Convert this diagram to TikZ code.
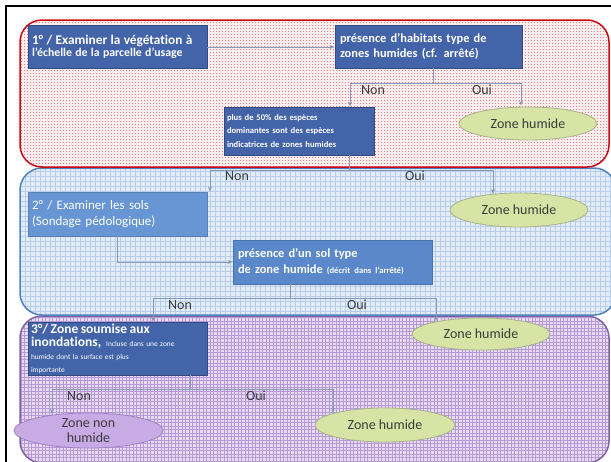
\documentclass[tikz,border=0pt]{standalone}
\usepackage{fontspec}
\setmainfont[Ligatures=NoCommon]{Carlito}
\usetikzlibrary{patterns.meta,arrows.meta,shapes.geometric}
\definecolor{redline}{RGB}{200,10,20}
\definecolor{redbg}{RGB}{252,238,238}
\definecolor{reddot}{RGB}{232,125,130}
\definecolor{blueline}{RGB}{79,129,189}
\definecolor{bluebg}{RGB}{226,236,248}
\definecolor{bluegridc}{RGB}{185,205,232}
\definecolor{purpline}{RGB}{128,100,162}
\definecolor{purpbg}{RGB}{232,218,243}
\definecolor{purpgridc}{RGB}{182,154,214}
\definecolor{darkbox}{RGB}{68,100,170}
\definecolor{darkboxline}{RGB}{50,75,130}
\definecolor{lightbox}{RGB}{104,150,212}
\definecolor{midbox}{RGB}{90,136,202}
\definecolor{greenfill}{RGB}{215,228,165}
\definecolor{greenline}{RGB}{165,180,140}
\definecolor{purpfill}{RGB}{200,170,228}
\definecolor{purpell}{RGB}{160,130,195}
\definecolor{connc}{RGB}{135,155,185}
\definecolor{labc}{RGB}{60,60,60}
\tikzdeclarepattern{name=rdots, type=uncolored,
  bounding box={(0pt,0pt) and (3pt,3pt)}, tile size={(3pt,3pt)},
  code={\fill (0pt,0pt) rectangle (1.2pt,1.2pt);}}
\tikzdeclarepattern{name=bgrid, type=uncolored,
  bounding box={(-0.3pt,-0.3pt) and (5.3pt,5.3pt)}, tile size={(5pt,5pt)},
  code={\draw[line width=0.6pt] (0pt,0pt) -- (5pt,0pt) (0pt,0pt) -- (0pt,5pt);}}
\tikzdeclarepattern{name=pgrid, type=uncolored,
  bounding box={(-0.4pt,-0.4pt) and (3.9pt,3.9pt)}, tile size={(3.5pt,3.5pt)},
  code={\draw[line width=0.8pt] (0pt,0pt) -- (3.5pt,0pt) (0pt,0pt) -- (0pt,3.5pt);}}
\begin{document}
\begin{tikzpicture}[x=1pt,y=-1pt,
  panel/.style={line width=1.5pt, rounded corners=22pt},
  boxbase/.style={rectangle, draw=darkboxline, line width=0.8pt, text=white, align=left, inner ysep=0pt},
  dbox/.style={boxbase, fill=darkbox},
  lbox/.style={boxbase, fill=lightbox, draw=lightbox!85!black},
  mbox/.style={boxbase, fill=midbox, draw=midbox!85!black},
  gell/.style={ellipse, draw=greenline, fill=greenfill, line width=0.8pt, inner sep=0pt, text=labc, font=\fontsize{14}{15}\selectfont},
  pell/.style={ellipse, draw=purpell, fill=purpfill, line width=0.8pt, inner sep=0pt, text=labc, align=center, font=\fontsize{14}{15}\selectfont},
  conn/.style={draw=connc, line width=0.8pt},
  arr/.style={conn, -{Stealth[length=5pt,width=4pt]}},
  lab/.style={text=labc, inner sep=0pt, font=\fontsize{14}{15}\selectfont}]
\useasboundingbox (0,0) rectangle (611,461);
\clip (0,0) rectangle (611,461);
\fill[white] (0,0) rectangle (611,461);
% panels
\path[panel, preaction={fill=purpbg}, pattern=pgrid, pattern color=purpgridc, draw=purpline] (20,316) rectangle (609,463);
\path[panel, preaction={fill=bluebg}, pattern=bgrid, pattern color=bluegridc, draw=blueline] (20,168) rectangle (616,315);
\path[panel, preaction={fill=redbg}, pattern=rdots, pattern color=reddot, draw=redline] (20,20) rectangle (609,167);
% frame
\draw[line width=2pt, black] (6,6) rectangle (640,490);
% boxes
\node[dbox, minimum width=179pt, minimum height=43pt, text width=171pt, inner xsep=4pt] (b1) at (117.5,46.5)
 {\bfseries{\fontsize{13.3}{15}\selectfont 1° / Examiner la végétation à}\\{\fontsize{11.8}{15}\selectfont l'échelle de la parcelle d'usage}};
\node[dbox, minimum width=187pt, minimum height=43pt, text width=177pt, inner xsep=5pt, font=\bfseries\fontsize{12.4}{15.5}\selectfont] (b2) at (428.5,46.5)
 {présence d'habitats type de\\zones humides (cf. arrêté)};
\node[dbox, minimum width=150pt, minimum height=48pt, text width=144pt, inner xsep=3pt, font=\bfseries\fontsize{8.6}{13.5}\selectfont] (b3) at (299,131)
 {plus de 50\% des espèces\\dominantes sont des espèces\\indicatrices de zones humides};
\node[gell, minimum width=138pt, minimum height=33pt] (e1) at (528,123.5) {Zone humide};
\node[lbox, minimum width=179pt, minimum height=44pt, text width=171pt, inner xsep=4pt, font=\fontsize{13}{16}\selectfont] (b4) at (117.5,214)
 {2° / Examiner les sols\\(Sondage pédologique)};
\node[gell, minimum width=138pt, minimum height=34pt] (e2) at (519,210) {Zone humide};
\node[mbox, minimum width=199pt, minimum height=44pt, text width=189pt, inner xsep=5pt, font=\bfseries\fontsize{12.4}{16}\selectfont] (b5) at (332.5,262)
 {présence d'un sol type\\de zone humide {\fontsize{8.6}{16}\selectfont (décrit dans l'arrêté)}};
\node[dbox, minimum width=179pt, minimum height=53pt, text width=173pt, inner xsep=3pt, font=\fontsize{7.4}{13}\selectfont] (b6) at (117.5,348.5)
 {{\bfseries\fontsize{13.5}{13}\selectfont 3°/ Zone soumise aux}\\{\bfseries\fontsize{13.5}{13}\selectfont inondations,}\ \ Incluse dans une zone\\humide dont la surface est plus\\importante};
\node[gell, minimum width=138pt, minimum height=32pt] (e3) at (481,334) {Zone humide};
\node[pell, minimum width=149pt, minimum height=35pt] (e4) at (88.5,430.5) {Zone non\\humide};
\node[gell, minimum width=140pt, minimum height=34pt] (e5) at (385,425) {Zone humide};
% junction coordinates
\coordinate (j1) at (433,83);
\coordinate (j1l) at (350,83);
\coordinate (j1r) at (521,83);
\coordinate (j2) at (349,170);
\coordinate (j2l) at (210,170);
\coordinate (j2r) at (493,170);
\coordinate (j3) at (117,262);
\coordinate (j4) at (290,298);
\coordinate (j4l) at (153,298);
\coordinate (j4r) at (436,298);
\coordinate (j5) at (190,389);
\coordinate (j5l) at (52,389);
\coordinate (j5r) at (333,389);
% connectors
\draw[arr] (b1.east |- 0,47) -- (b2.west |- 0,47);
\draw[conn] (b2.south -| j1) -- (j1);
\draw[conn] (j1l) -- (j1r);
\draw[arr] (j1l) -- (b3.north -| j1l);
\draw[arr] (j1r) -- ([yshift=1pt]e1.north -| j1r);
\draw[conn] (b3.south -| j2) -- (j2);
\draw[conn] (j2l) -- (j2r);
\draw[arr] (j2l) -- (b4.north -| j2l);
\draw[arr] (j2r) -- (493,194);
\draw[conn] (b4.south -| j3) -- (j3);
\draw[arr] (j3) -- (b5.west |- j3);
\draw[conn] (b5.south -| j4) -- (j4);
\draw[conn] (j4l) -- (j4r);
\draw[arr] (j4l) -- (b6.north -| j4l);
\draw[arr] (j4r) -- (436,321);
\draw[conn] (b6.south -| j5) -- (j5);
\draw[conn] (j5l) -- (j5r);
\draw[arr] (j5l) -- (52,414);
\draw[arr] (j5r) -- (333,413);
% labels
\node[lab] (n1) at (373,90) {Non};
\node[lab] (o1) at (482,90) {Oui};
\node[lab] (n2) at (237,176) {Non};
\node[lab] (o2) at (415,176) {Oui};
\node[lab] (n3) at (180,305) {Non};
\node[lab] (o3) at (357,305) {Oui};
\node[lab] (n4) at (79,396) {Non};
\node[lab] (o4) at (256,396) {Oui};
\end{tikzpicture}
\end{document}
